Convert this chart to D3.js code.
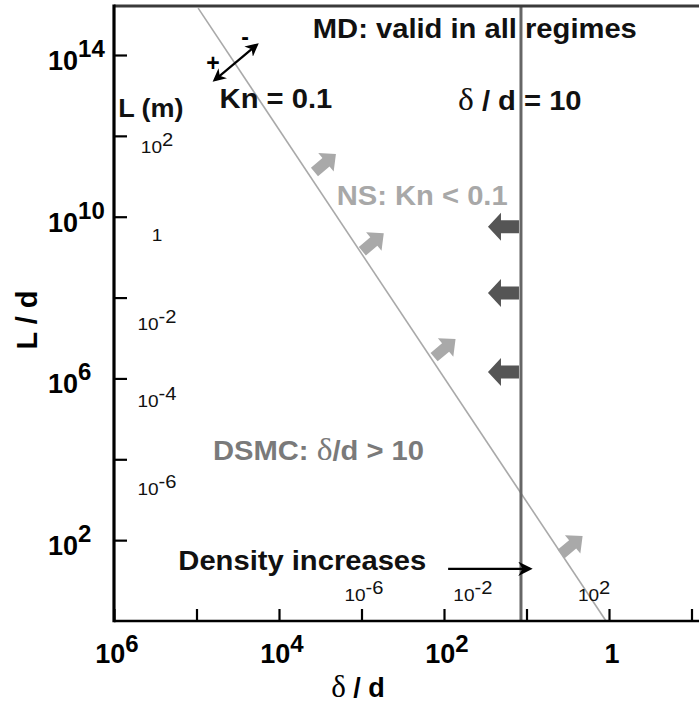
<!DOCTYPE html>
<html>
<head>
<meta charset="UTF-8">
<script src="https://d3js.org/d3.v7.min.js"></script>
<style>
  body { margin: 0; background: #fff; }
  text { white-space: pre; }
</style>
</head>
<body>
<svg></svg>
<script>
const width = 699;
const height = 706;

// axis ticks, as exponents of ten
const xTickExp = [6, 5, 4, 3, 2, 1, 0, -1];
const xLabelExp = [6, 4, 2, 0];
const yTickExp = [14, 12, 10, 8, 6, 4, 2];
const yLabelExp = [14, 10, 6, 2];

// L (m) labels inside the plot: exponent and where it sits on log10(L/d)
const lmExp = [2, 0, -2, -4, -6];
const lmAt = [11.58, 9.40, 7.20, 5.29, 3.12];

// density labels along the bottom: exponent and where it sits on log10(δ/d)
const rhoExp = [-6, -2, 2];
const rhoAt = [2.97, 1.65, 0.18];

// Kn = 0.1 line, [log10 δ/d, log10 L/d]
const knLine = [[4.98, 15.16], [0.036, 0]];
// δ/d = 10 line, log10 δ/d as drawn
const deltaLine = 1.067;

// regime arrows
const nsArrows = [[3.44, 11.33], [2.86, 9.37], [1.99, 6.75], [0.45, 1.88]];
const mdArrows = [9.75, 8.11, 6.16];   // log10 L/d, tails on the δ/d line
const knArrow = [[4.78, 13.38], [4.27, 14.25]];
const densityArrow = [[1.95, 1.29], [0.96, 1.29]];

// annotations
const noteText = ["MD: valid in all regimes", "Kn = 0.1", "\u03b4 / d = 10", "NS: Kn < 0.1",
                  "DSMC: \u03b4/d > 10", "Density increases", "L (m)"];
const noteAt = [[3.59, 14.42], [4.72, 12.69], [1.83, 12.64], [3.30, 10.29],
                [4.80, 3.98], [5.22, 1.26], [5.95, 12.47]];
const noteFill = ["#111", "#111", "#111", "#a8a8a8", "#7a7a7a", "#111", "#111"];
const signText = ["+", "-"];
const signAt = [[4.80, 13.80], [4.41, 14.44]];

const x = d3.scaleLog().domain([1e6, 1e-1]).range([114, 114 + 7 * 82.5]);
const y = d3.scaleLog().domain([1, 1e14]).range([621, 55]);
const P = d => [x(10 ** d[0]), y(10 ** d[1])];
const plotBottom = y(1), plotLeft = x(1e6), plotTop = 6;

const svg = d3.select("svg")
    .attr("width", width).attr("height", height)
    .attr("viewBox", [0, 0, width, height])
    .style("font-family", "'Liberation Sans', Arial, Helvetica, sans-serif");

const defs = svg.append("defs");
defs.append("marker").attr("id", "head")
    .attr("viewBox", "0 0 10 10").attr("refX", 8).attr("refY", 5)
    .attr("markerWidth", 6).attr("markerHeight", 6).attr("orient", "auto-start-reverse")
  .append("path").attr("d", "M0,0L10,5L0,10L3,5Z").attr("fill", "#000");

// Kn line
svg.append("path")
    .datum(knLine)
    .attr("fill", "none")
    .attr("stroke", "#a9a9a9")
    .attr("stroke-width", 1.6)
    .attr("d", d3.line().x(d => P(d)[0]).y(d => P(d)[1]));

// δ/d = 10 line
svg.append("line")
    .attr("x1", x(10 ** deltaLine)).attr("x2", x(10 ** deltaLine))
    .attr("y1", plotTop).attr("y2", plotBottom)
    .attr("stroke", "#666").attr("stroke-width", 3);

// ticks
svg.append("g")
    .attr("transform", `translate(0,${plotBottom})`)
    .call(d3.axisBottom(x).tickValues(xTickExp.map(e => 10 ** e)).tickSize(-12).tickFormat(""))
    .call(g => g.select(".domain").remove())
    .call(g => g.selectAll(".tick line").attr("stroke", "#000").attr("stroke-width", 2.2));

svg.append("g")
    .attr("transform", `translate(${plotLeft},0)`)
    .call(d3.axisLeft(y).tickValues(yTickExp.map(e => 10 ** e)).tickSize(-13).tickFormat(""))
    .call(g => g.select(".domain").remove())
    .call(g => g.selectAll(".tick line").attr("stroke", "#000").attr("stroke-width", 2.2));

// frame
svg.append("line").attr("x1", plotLeft).attr("x2", width).attr("y1", plotTop).attr("y2", plotTop)
    .attr("stroke", "#3a3a3a").attr("stroke-width", 3);
svg.append("line").attr("x1", plotLeft).attr("x2", width).attr("y1", plotBottom).attr("y2", plotBottom)
    .attr("stroke", "#000").attr("stroke-width", 2.6);
svg.append("line").attr("x1", plotLeft).attr("x2", plotLeft).attr("y1", plotTop - 1.5).attr("y2", plotBottom + 1.3)
    .attr("stroke", "#000").attr("stroke-width", 3.2);

// power-of-ten label
function pow10(g, e, base, sup, rise) {
  const t = g.append("text");
  if (e === 0) { t.append("tspan").attr("font-size", base).text("1"); return t; }
  t.append("tspan").attr("font-size", base).text("10");
  t.append("tspan").attr("font-size", sup).attr("dy", -rise).text(String(e));
  return t;
}

const xl = svg.append("g").attr("font-weight", "bold").attr("fill", "#000");
xLabelExp.forEach(e => {
  pow10(xl, e, 27, 24, 11)
      .attr("x", x(10 ** e) + 3).attr("y", 663)
      .attr("text-anchor", "middle");
});

const yl = svg.append("g").attr("font-weight", "bold").attr("fill", "#000");
yLabelExp.forEach(e => {
  pow10(yl, e, 27, 24, 13)
      .attr("x", 48).attr("y", y(10 ** e) + 15);
});

// L (m) and density labels
const sl = svg.append("g").attr("fill", "#111");
lmExp.forEach((e, i) => {
  pow10(sl, e, 17, 18, 7)
      .attr("transform", `translate(157,${y(10 ** lmAt[i])}) scale(1.12,1)`)
      .attr("text-anchor", "middle");
});
rhoExp.forEach((e, i) => {
  pow10(sl, e, 17, 18, 7)
      .attr("transform", `translate(${x(10 ** rhoAt[i])},601) scale(1.12,1)`)
      .attr("text-anchor", "middle");
});

// regime arrows
const fatNE = "M14,0L1,-12L1,-5.5L-14,-5.5L-14,5.5L1,5.5L1,12Z";
svg.append("g").attr("fill", "#a9a9a9")
  .selectAll("path").data(nsArrows).join("path")
    .attr("d", fatNE)
    .attr("transform", d => `translate(${P(d)}) rotate(-40)`);

const fatLeft = "M0,-6.5L18,-6.5L18,-14L31,0L18,14L18,6.5L0,6.5Z";
svg.append("g").attr("fill", "#555")
  .selectAll("path").data(mdArrows).join("path")
    .attr("d", fatLeft)
    .attr("transform", d => `translate(${x(10 ** deltaLine) - 2},${y(10 ** d)}) rotate(180)`);

// Kn double arrow and density arrow
svg.append("line")
    .attr("x1", P(knArrow[0])[0]).attr("y1", P(knArrow[0])[1])
    .attr("x2", P(knArrow[1])[0]).attr("y2", P(knArrow[1])[1])
    .attr("stroke", "#000").attr("stroke-width", 2.2)
    .attr("marker-start", "url(#head)").attr("marker-end", "url(#head)");
svg.append("line")
    .attr("x1", P(densityArrow[0])[0]).attr("y1", P(densityArrow[0])[1])
    .attr("x2", P(densityArrow[1])[0]).attr("y2", P(densityArrow[1])[1])
    .attr("stroke", "#000").attr("stroke-width", 2.4)
    .attr("marker-end", "url(#head)");

signText.forEach((s, i) => {
  svg.append("text")
      .attr("x", P(signAt[i])[0]).attr("y", P(signAt[i])[1])
      .attr("text-anchor", "middle").attr("dominant-baseline", "central")
      .attr("font-weight", "bold").attr("font-size", 23)
      .text(s);
});

// text with δ set in a serif face
function mixed(g, txt, size) {
  txt.split(/(\u03b4)/).filter(s => s).forEach(s => {
    const sp = g.append("tspan").text(s);
    if (s === "\u03b4") sp.attr("font-family", "'Liberation Serif', 'Times New Roman', serif")
        .attr("font-weight", "normal").attr("font-size", size * 1.15);
  });
}

noteText.forEach((s, i) => {
  const [px, py] = P(noteAt[i]);
  const size = i === 6 ? 25 : 27;
  const t = svg.append("text")
      .attr("transform", `translate(${px},${py}) scale(1.08,1)`)
      .attr("fill", noteFill[i])
      .attr("font-weight", "bold")
      .attr("font-size", size);
  mixed(t, s, size);
});

// axis titles
const xt = svg.append("text")
    .attr("x", 358).attr("y", 697)
    .attr("text-anchor", "middle")
    .attr("font-weight", "bold").attr("font-size", 27);
mixed(xt, "\u03b4 / d", 27);

svg.append("text")
    .attr("transform", "translate(37,320) rotate(-90)")
    .attr("text-anchor", "middle")
    .attr("font-weight", "bold").attr("font-size", 29)
    .text("L / d");
</script>
</body>
</html>
